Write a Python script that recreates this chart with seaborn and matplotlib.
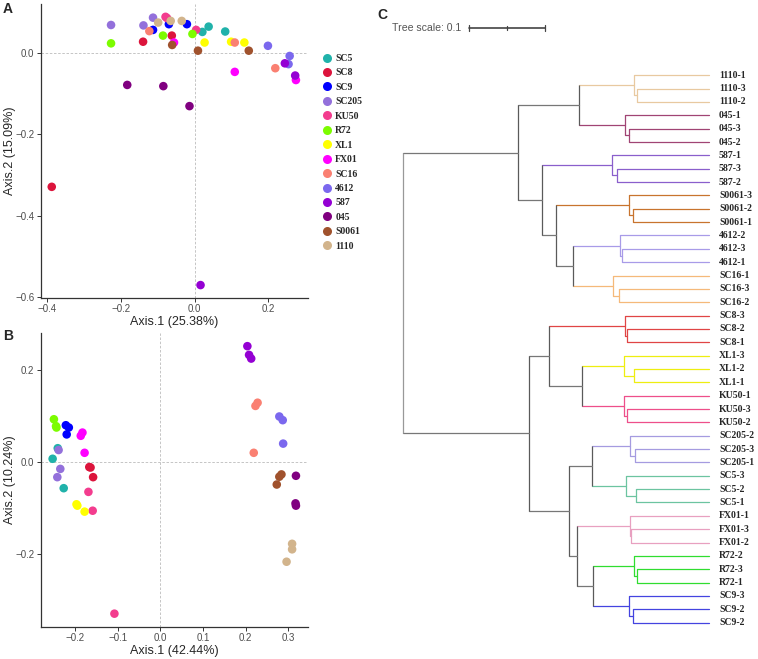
import numpy as np
import pandas as pd
import matplotlib
matplotlib.use("Agg")
import matplotlib.pyplot as plt
from matplotlib.lines import Line2D
import seaborn as sns

sns.set_style("ticks")
plt.rcParams['font.family'] = ['Liberation Sans', 'DejaVu Sans']

# strains and their colours (legend order)
groups = ["SC5", "SC8", "SC9", "SC205", "KU50", "R72", "XL1", "FX01",
          "SC16", "4612", "587", "045", "S0061", "1110"]
group_colors = ["#20B2AA", "#DC143C", "#0000FF", "#9370DB", "#F33C8E", "#7CFC00",
                "#FFFF00", "#FF00FF", "#FA8072", "#7B68EE", "#9400D3", "#800080",
                "#A0522D", "#D2B48C"]

# PCoA panel A, three replicates per strain
a_x = [[0.021, 0.038, 0.083], [-0.140, -0.062, -0.388], [-0.113, -0.070, -0.021],
       [-0.227, -0.139, -0.113], [-0.079, 0.004, -0.075], [-0.227, -0.086, -0.006],
       [0.027, 0.099, 0.135], [-0.056, 0.109, 0.275], [-0.123, 0.109, 0.219],
       [0.199, 0.258, 0.255], [0.245, 0.273, 0.016], [-0.183, -0.085, -0.014],
       [-0.061, 0.009, 0.147], [-0.099, -0.065, -0.035]]
a_y = [[0.051, 0.064, 0.052], [0.027, 0.042, -0.329], [0.056, 0.070, 0.070],
       [0.068, 0.067, 0.086], [0.088, 0.056, 0.085], [0.023, 0.042, 0.046],
       [0.025, 0.027, 0.025], [0.025, -0.047, -0.067], [0.053, 0.025, -0.038],
       [0.017, -0.008, -0.028], [-0.026, -0.056, -0.570], [-0.079, -0.082, -0.131],
       [0.019, 0.005, 0.005], [0.074, 0.078, 0.078]]

# PCoA panel B
b_x = [[-0.241, -0.253, -0.227], [-0.167, -0.164, -0.158], [-0.222, -0.215, -0.220],
       [-0.239, -0.235, -0.242], [-0.169, -0.159, -0.108], [-0.250, -0.245, -0.244],
       [-0.197, -0.195, -0.178], [-0.183, -0.187, -0.178], [0.223, 0.228, 0.219],
       [0.279, 0.287, 0.288], [0.204, 0.208, 0.213], [0.318, 0.317, 0.318],
       [0.284, 0.279, 0.273], [0.309, 0.309, 0.296]]
b_y = [[0.030, 0.007, -0.057], [-0.011, -0.012, -0.033], [0.080, 0.075, 0.060],
       [0.026, -0.015, -0.033], [-0.065, -0.106, -0.330], [0.093, 0.078, 0.075],
       [-0.092, -0.095, -0.108], [0.064, 0.057, 0.020], [0.122, 0.129, 0.020],
       [0.099, 0.091, 0.040], [0.252, 0.233, 0.225], [-0.030, -0.090, -0.095],
       [-0.027, -0.032, -0.049], [-0.178, -0.190, -0.217]]

# tree (panel C): strain clades top to bottom
tree_species = ["1110", "045", "587", "S0061", "4612", "SC16", "SC8", "XL1",
                "KU50", "SC205", "SC5", "FX01", "R72", "SC9"]
leaf_suffix = [["1", "3", "2"], ["1", "3", "2"], ["1", "3", "2"], ["3", "2", "1"],
               ["2", "3", "1"], ["1", "3", "2"], ["3", "2", "1"], ["3", "2", "1"],
               ["1", "3", "2"], ["2", "3", "1"], ["3", "2", "1"], ["1", "3", "2"],
               ["2", "3", "1"], ["3", "2", "2"]]
clade_depth = [0.3036, 0.2913, 0.2746, 0.2974, 0.2851, 0.2755, 0.2921, 0.2908,
               0.2908, 0.2987, 0.2934, 0.2983, 0.3039, 0.2966]
pair_depth = [0.3071, 0.2966, 0.2816, 0.3026, 0.2882, 0.2842, 0.2947, 0.3032,
              0.2943, 0.3053, 0.3058, 0.3000, 0.3079, 0.3022]
tree_colors = ["#E8C9A0", "#A04474", "#8A5FCC", "#C8742E", "#A89BE8", "#F5B97A",
               "#E04545", "#EEEE10", "#EE4F8A", "#A59BE0", "#6CC4A0", "#E8A0C0",
               "#30DD30", "#4444E0"]
leaf_depth = 0.402
# backbone: (depth, upper, lower)
backbone = (0.0,
            (0.1513, (0.2316, "1110", "045"),
                     (0.1825, "587", (0.2003, "S0061", (0.2229, "4612", "SC16")))),
            (0.1654, (0.1921, "SC8", (0.2351, "XL1", "KU50")),
                     (0.2184, (0.2487, "SC205", "SC5"),
                              (0.2282, "FX01", (0.25, "R72", "SC9")))))

palette = dict(zip(groups, group_colors))


def make_df(xs, ys):
    rows = []
    for g, xx, yy in zip(groups, xs, ys):
        for x, y in zip(xx, yy):
            rows.append((g, x, y))
    return pd.DataFrame(rows, columns=["Group", "x", "y"])


fig = plt.figure(figsize=(7.58, 6.59), dpi=100)
W, H = 758, 659

def pix_axes(x0, y0, x1, y1):
    return fig.add_axes([x0 / W, 1 - y1 / H, (x1 - x0) / W, (y1 - y0) / H])


def style_pcoa(ax, xlab, ylab):
    ax.axhline(0, color="#BBBBBB", lw=0.6, ls=(0, (3, 2)), zorder=0)
    ax.axvline(0, color="#BBBBBB", lw=0.6, ls=(0, (3, 2)), zorder=0)
    sns.despine(ax=ax)
    for s in ["left", "bottom"]:
        ax.spines[s].set_color("#333333")
        ax.spines[s].set_linewidth(0.9)
    ax.tick_params(labelsize=7, colors="#333333", labelcolor="#4D4D4D", length=3, width=0.7, pad=1.5)
    ax.set_xlabel(xlab, fontsize=9, labelpad=1)
    ax.set_ylabel(ylab, fontsize=9, labelpad=-0.5)


# panel A
axA = pix_axes(40.7, 3.8, 307.7, 298)
sns.scatterplot(data=make_df(a_x, a_y), x="x", y="y", hue="Group", palette=palette,
                s=38, edgecolor="none", legend=False, ax=axA)
axA.set_xlim(-0.418, 0.307)
axA.set_ylim(-0.6017, 0.12)
axA.set_xticks([-0.4, -0.2, 0.0, 0.2])
axA.set_yticks([-0.6, -0.4, -0.2, 0.0])
style_pcoa(axA, "Axis.1 (25.38%)", "Axis.2 (15.09%)")

# panel B
axB = pix_axes(40.7, 333.3, 308.3, 627)
sns.scatterplot(data=make_df(b_x, b_y), x="x", y="y", hue="Group", palette=palette,
                s=38, edgecolor="none", legend=False, ax=axB)
axB.set_xlim(-0.281, 0.347)
axB.set_ylim(-0.359, 0.280)
axB.set_xticks([-0.2, -0.1, 0.0, 0.1, 0.2, 0.3])
axB.set_yticks([-0.2, 0.0, 0.2])
style_pcoa(axB, "Axis.1 (42.44%)", "Axis.2 (10.24%)")

# legend
handles = [Line2D([0], [0], marker="o", ls="", markersize=6.5, markerfacecolor=c,
                  markeredgecolor="none") for c in group_colors]
fig.legend(handles, groups, loc="upper left", bbox_to_anchor=(323 / W, 1 - 54 / H),
           frameon=False, borderpad=0, borderaxespad=0, handlelength=0.9,
           handletextpad=0.35, labelspacing=0.56,
           prop={"family": ["Liberation Serif", "DejaVu Serif"], "weight": "bold", "size": 7})

# panel C tree
axC = pix_axes(395, 0, 758, 659)
axC.set_xlim((395 - 403.3) / 760, (758 - 403.3) / 760)
axC.set_ylim((659 - 75.3) / 13.35, -75.3 / 13.35)
axC.axis("off")

lw = 0.9
leaf_counter = [0]


def draw_clade(name, parent_x):
    k = tree_species.index(name)
    c = tree_colors[k]
    i = leaf_counter[0]
    leaf_counter[0] += 3
    d1, d2 = clade_depth[k], pair_depth[k]
    ys = [i, i + 1, i + 2]
    pair_y = i + 1.5
    mid = (i + pair_y) / 2
    # pair node
    axC.plot([d2, d2], [ys[1], ys[2]], color=c, lw=lw, solid_capstyle="butt")
    axC.plot([d2, leaf_depth], [ys[1], ys[1]], color=c, lw=lw)
    axC.plot([d2, leaf_depth], [ys[2], ys[2]], color=c, lw=lw)
    # clade node
    axC.plot([d1, d1], [ys[0], pair_y], color=c, lw=lw, solid_capstyle="butt")
    axC.plot([d1, leaf_depth], [ys[0], ys[0]], color=c, lw=lw)
    axC.plot([d1, d2], [pair_y, pair_y], color=c, lw=lw)
    axC.plot([parent_x, d1], [mid, mid], color=c, lw=lw)
    for y, suf in zip(ys, leaf_suffix[k]):
        axC.text((719 - 403.3) / 760, y, f"{name}-{suf}", va="center", ha="left",
                 fontsize=7, fontweight="bold", family=["Liberation Serif", "DejaVu Serif"])
    return mid


def draw(node, parent_x):
    if isinstance(node, str):
        return draw_clade(node, parent_x)
    x, up, lo = node
    col = "#999999" if x == 0.0 else "#5A5A5A"
    y1 = draw(up, x)
    y2 = draw(lo, x)
    axC.plot([x, x], [y1, y2], color=col, lw=lw, solid_capstyle="butt")
    mid = (y1 + y2) / 2
    if parent_x is not None:
        axC.plot([parent_x, x], [mid, mid], color="#777777", lw=lw)
    return mid


draw(backbone, None)

# tree scale bar
sy = (28 - 75.3) / 13.35
s0 = (469 - 403.3) / 760
axC.plot([s0, s0 + 0.1], [sy, sy], color="#444444", lw=1.2)
for t in [s0, s0 + 0.05, s0 + 0.1]:
    h = 0.22 if t != s0 + 0.05 else 0.12
    axC.plot([t, t], [sy - h, sy + h], color="#444444", lw=0.9)
axC.text((461 - 403.3) / 760, sy, "Tree scale: 0.1", ha="right", va="center", fontsize=7.6,
         color="#555555", family=["Liberation Sans Narrow", "Liberation Sans", "DejaVu Sans"])

# panel letters
fig.text(8 / W, 1 - 9 / H, "A", fontsize=10, fontweight="bold", ha="center", va="center")
fig.text(8 / W, 1 - 336 / H, "B", fontsize=10, fontweight="bold", ha="center", va="center")
fig.text(382 / W, 1 - 15 / H, "C", fontsize=10, fontweight="bold", ha="center", va="center")

fig.savefig("out.png", dpi=100)
